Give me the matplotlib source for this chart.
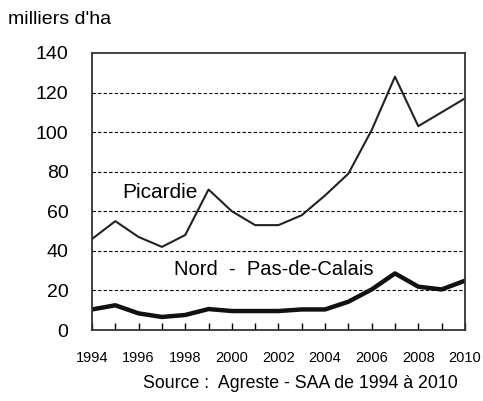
import matplotlib.pyplot as plt

plt.rcParams['font.family'] = ['Liberation Sans', 'DejaVu Sans']

years = list(range(1994, 2011))
picardie = [46, 55, 47, 42, 48, 71, 60, 53, 53, 58, 68, 79, 101, 128, 103, 110, 117]
nord = [10.4, 12.5, 8.4, 6.6, 7.6, 10.6, 9.6, 9.6, 9.6, 10.4, 10.4, 14.3, 20.5, 28.6, 21.9, 20.5, 24.9]
yticks = [0, 20, 40, 60, 80, 100, 120, 140]

fig = plt.figure(figsize=(4.83, 4.01), dpi=100)
ax = fig.add_axes([0.1905, 0.177, 0.772, 0.691])

ax.plot(years, picardie, color='#222222', lw=1.5)
ax.plot(years, nord, color='#111111', lw=3.2)

ax.set_xlim(1994, 2010)
ax.set_ylim(0, 140)
ax.set_yticks(yticks)
ax.set_yticklabels([str(v) for v in yticks], fontsize=14)
ax.tick_params(axis='y', length=0, pad=17)
ax.set_xticks(years)
ax.set_xticklabels([str(y) if y % 2 == 0 else '' for y in years], fontsize=10.5)
ax.tick_params(axis='x', direction='in', length=5, pad=15, width=1)

for v in yticks[1:-1]:
    ax.axhline(v, color='black', lw=0.8, ls=(0, (3, 2)), zorder=0)

for s in ax.spines.values():
    s.set_linewidth(1.3)
    s.set_color('#333333')

ax.text(1995.3, 69.7, 'Picardie', fontsize=15, va='center')
ax.text(1997.5, 30.8, 'Nord  -  Pas-de-Calais', fontsize=14.5, va='center')

fig.text(8 / 483, 1 - 20 / 401, "milliers d'ha", fontsize=14, va='center')
fig.text(300 / 483, 1 - 383 / 401, 'Source :  Agreste - SAA de 1994 à 2010', fontsize=12.8, ha='center', va='center')

fig.savefig('out.png', dpi=100)
